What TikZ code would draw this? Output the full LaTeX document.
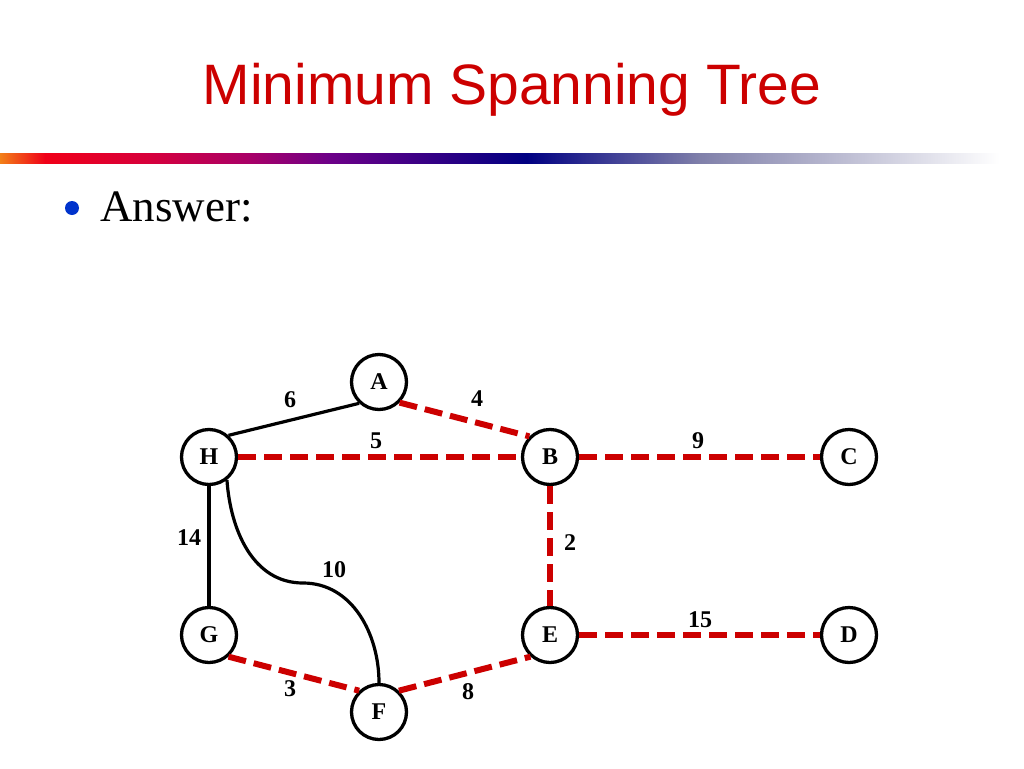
\documentclass[tikz,border=0pt]{standalone}
\usepackage{fontspec}
\setmainfont{Liberation Serif}
\newfontfamily\titlefont{Liberation Sans}

\definecolor{mstred}{RGB}{204,0,0}
\definecolor{barorange}{RGB}{242,128,24}
\definecolor{barred}{RGB}{240,0,24}
\definecolor{barcrimson}{RGB}{214,0,60}
\definecolor{barmagenta}{RGB}{168,0,104}
\definecolor{barpurple}{RGB}{108,0,136}
\definecolor{barnavy}{RGB}{0,0,130}
\definecolor{bargrey}{RGB}{128,128,170}
\definecolor{bulletblue}{RGB}{0,51,204}

\pgfdeclarehorizontalshading{slidebar}{100bp}{color(0bp)=(barorange); color(25bp)=(barorange);
  color(27.2bp)=(barred); color(32.3bp)=(barcrimson); color(37.2bp)=(barmagenta);
  color(41.1bp)=(barpurple); color(50.7bp)=(barnavy); color(59.2bp)=(bargrey);
  color(73.8bp)=(white); color(100bp)=(white)}

\tikzset{
  vertex/.style={circle, draw, line width=3.3pt, minimum size=55pt, inner sep=0pt,
    font=\fontsize{24}{24}\selectfont\bfseries},
  weight/.style={font=\fontsize{24}{24}\selectfont\bfseries},
  plainedge/.style={line width=3.2pt},
  treeedge/.style={line width=6pt, mstred, dash pattern=on 18pt off 8pt}
}

\begin{document}
\begin{tikzpicture}[x=1pt, y=-1pt]
\useasboundingbox (0,0) rectangle (1024,768);

% Title and bar
\node[mstred, font=\titlefont\fontsize{57}{57}\selectfont] (title) at (512,90) {Minimum Spanning Tree};
\shade[shading=slidebar] (0,153) rectangle (1024,163);

% Bullet
\fill[bulletblue] (72,208) circle (7);
\node[anchor=base west, font=\fontsize{45}{45}\selectfont, inner sep=0pt] (answer) at (100,221) {Answer:};

% Vertices
\node[vertex] (A) at (379,382) {A};
\node[vertex] (H) at (209,457) {H};
\node[vertex] (B) at (550,457) {B};
\node[vertex] (C) at (849,457) {C};
\node[vertex] (G) at (209,635) {G};
\node[vertex] (E) at (550,635) {E};
\node[vertex] (D) at (849,635) {D};
\node[vertex] (F) at (379,712) {F};
\coordinate (bend) at (303,583);

% Edges not in the tree
\draw[plainedge] (H.48) -- (A.-133);
\draw[plainedge] (H) -- (G);
\draw[plainedge] (H.-52) to[out=-86, in=180] (bend) to[out=0, in=90] (F.north);

% Edges of the tree
\draw[treeedge] (A.-45) -- (B.135);
\draw[treeedge] (H) -- (B);
\draw[treeedge] (B) -- (C);
\draw[treeedge] (B) -- (E);
\draw[treeedge] (E) -- (D);
\draw[treeedge] (G.-48) -- (F.133);
\draw[treeedge] (F.47) -- (E.-132);

% Weights
\node[weight] (wHA) at (290,400) {6};
\node[weight] (wAB) at (477,399) {4};
\node[weight] (wHB) at (376,441) {5};
\node[weight] (wBC) at (698,441) {9};
\node[weight] (wHG) at (189,538) {14};
\node[weight] (wHF) at (334,570) {10};
\node[weight] (wBE) at (570,543) {2};
\node[weight] (wED) at (700,620) {15};
\node[weight] (wGF) at (290,689) {3};
\node[weight] (wFE) at (468,692) {8};
\end{tikzpicture}
\end{document}
